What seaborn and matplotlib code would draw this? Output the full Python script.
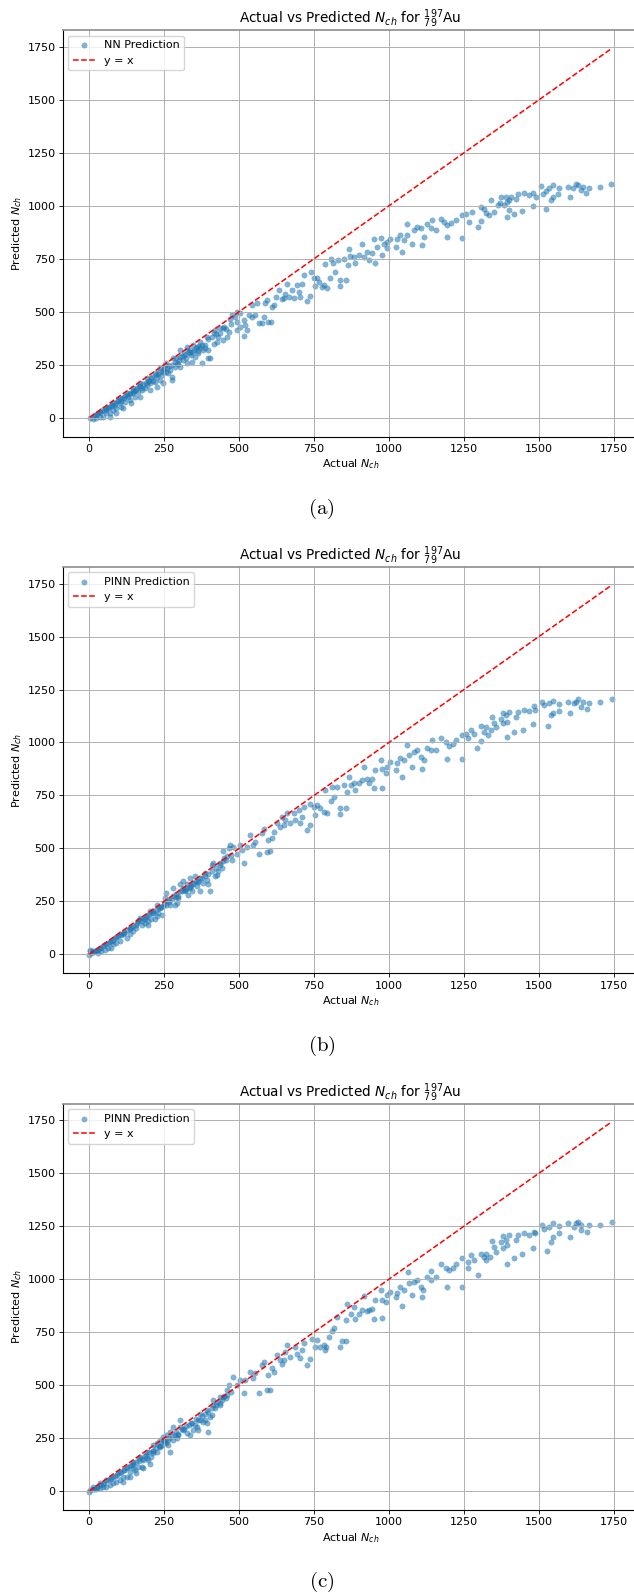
import matplotlib
matplotlib.use("Agg")
import matplotlib.pyplot as plt
import seaborn as sns

# ---- panel (a): NN ----
nn_actual = [
    1741, 1702, 1668, 1657, 1646, 1641, 1629, 1624, 1613, 1602,
    1596, 1568, 1563, 1546, 1540, 1546, 1535, 1524, 1524, 1507,
    1513, 1490, 1479, 1479, 1468, 1451, 1442, 1429, 1423, 1418,
    1406, 1401, 1401, 1395, 1390, 1384, 1393, 1373, 1371, 1362,
    1351, 1340, 1334, 1323, 1317, 1306, 1306, 1297, 1278, 1267,
    1256, 1245, 1243, 1223, 1206, 1195, 1195, 1184, 1172, 1156,
    1145, 1139, 1128, 1117, 1111, 1108, 1094, 1083, 1078, 1061,
    1061, 1050, 1044, 1036, 1028, 1022, 1005, 992, 994, 983,
    977, 972, 961, 950, 952, 944, 933, 927, 916, 911,
    899, 888, 883, 871, 866, 863, 855, 851, 838, 838,
    829, 821, 813, 805, 802, 793, 788, 782, 777, 766,
    760, 754, 749, 740, 736, 727, 715, 710, 704, 699,
    693, 682, 676, 665, 660, 654, 649, 643, 632, 624,
    615, 610, 606, 598, 593, 587, 582, 576, 565, 559,
    554, 543, 543,
    476, 487, 493, 504, 515, 520, 515, 526, 532, 504,
    493, 465, 459, 448, 437, 431, 420, 426, 415, 403,
    398, 387, 381, 370, 364, 359, 353, 348, 337, 325,
    320, 314, 303, 292, 286, 270, 275, 264, 253, 247,
    242, 236, 225, 219, 208, 203, 192, 186, 175, 164,
    153, 147, 136, 130, 119, 108, 102, 91, 80, 69,
    58, 47, 36, 24, 13, 2,
    236, 258, 281, 303, 325, 219, 192, 169, 147, 125,
    102, 80, 58, 36, 19, 392, 415, 448, 470, 493,
    370, 348,
    247, 275, 303, 325, 342, 225, 203, 169, 141, 114,
    91, 69, 398, 376,
    30, 42, 55, 65, 75, 85, 95, 110, 120, 135,
    150, 160, 170, 180, 195, 210, 230, 245, 260, 285,
    300, 315, 335, 350, 365,
    15, 28, 38, 50, 62, 72, 88, 98, 105, 115,
    128, 138, 145, 158, 165, 178, 190, 200, 212, 222,
    232, 250, 255, 268, 278, 290, 298, 310, 322, 332,
    340, 355, 362, 378, 385, 395, 410, 422, 435, 450,
    458, 472,
]
nn_pred = [
    1105, 1090, 1085, 1061, 1090, 1074, 1097, 1105, 1082, 1042,
    1090, 1082, 1055, 1042, 1027, 1097, 1082, 1071, 987, 1093,
    1055, 1042, 1058, 998, 1050, 1058, 975, 1055, 1030, 961,
    1042, 1027, 979, 1019, 1042, 1003, 945, 1042, 1011, 1003,
    972, 1027, 956, 964, 987, 995, 929, 901, 972, 924,
    959, 956, 850, 932, 920, 909, 854, 924, 940, 888,
    935, 893, 913, 854, 814, 893, 901, 888, 822, 913,
    861, 838, 783, 861, 841, 806, 841, 830, 799, 819,
    767, 850, 806, 841, 731, 775, 744, 783, 756, 819,
    767, 728, 759, 762, 794, 720, 649, 751, 621, 649,
    744, 688, 728, 751, 657, 610, 723, 626, 618, 641,
    657, 621, 660, 688, 574, 552, 673, 633, 571, 594,
    626, 563, 602, 571, 630, 586, 563, 558, 602, 571,
    531, 523, 453, 453, 555, 539, 476, 445, 445, 539,
    484, 531, 476,
    484, 476, 453, 492, 461, 437, 385, 413, 484, 429,
    413, 406, 379, 366, 421, 382, 413, 358, 347, 280,
    319, 343, 319, 327, 303, 335, 288, 311, 303, 319,
    295, 272, 288, 256, 240, 225, 193, 209, 248, 225,
    201, 177, 193, 170, 185, 162, 154, 138, 130, 122,
    99, 115, 83, 99, 75, 52, 67, 44, 36, 20,
    20, 4, 4, -3, -4, -3,
    233, 256, 280, 319, 335, 209, 185, 162, 138, 115,
    91, 67, 44, 28, 12, 382, 398, 421, 468, 500,
    358, 343,
    162, 177, 240, 256, 264, 146, 130, 99, 67, 44,
    20, 4, 280, 256,
    22, 35, 40, 52, 60, 70, 78, 95, 100, 118,
    128, 140, 148, 160, 172, 190, 205, 215, 235, 262,
    270, 300, 318, 320, 340,
    10, 18, 25, 33, 48, 55, 62, 85, 80, 92,
    105, 110, 125, 130, 150, 140, 165, 175, 175, 200,
    215, 230, 215, 245, 250, 280, 255, 290, 280, 310,
    295, 330, 315, 345, 330, 370, 380, 395, 400, 430,
    420, 440,
]

# ---- panel (b): PINN ----
pinn_b_actual = [
    1743, 1704, 1668, 1661, 1646, 1641, 1630, 1624, 1616, 1602,
    1596, 1568, 1568, 1546, 1546, 1540, 1535, 1529, 1518, 1509,
    1488, 1479, 1485, 1468, 1451, 1446, 1429, 1423, 1418, 1401,
    1395, 1393, 1390, 1379, 1373, 1379, 1356, 1351, 1345, 1340,
    1329, 1323, 1317, 1306, 1306, 1295, 1284, 1273, 1262, 1256,
    1245, 1245, 1223, 1212, 1200, 1195, 1189, 1172, 1156, 1145,
    1139, 1128, 1117, 1111, 1106, 1094, 1083, 1078, 1061, 1067,
    1050, 1044, 1036, 1028, 1022, 1005, 994, 989, 977, 977,
    972, 955, 950, 944, 933, 927, 916, 911, 899, 888,
    883, 872, 866, 860, 855, 849, 838, 838, 827, 816,
    810, 805, 793, 788, 782, 771, 760, 754, 749, 738,
    738, 727, 715, 710, 704, 699, 688, 682, 671, 660,
    654, 649, 643, 637, 626, 615, 610, 604, 598, 593,
    582, 576, 565, 554, 548, 537, 526, 515, 509, 504,
    493, 481, 476, 470,
    459, 465, 448, 442, 437, 431, 426, 414, 409, 420,
    403, 398, 392, 387, 381, 370, 364, 359, 353, 348,
    342, 336, 325, 320, 314, 303, 297, 292, 281, 270,
    258, 253, 247, 236, 231, 225, 214, 208, 197, 192,
    186, 175, 164, 158, 147, 136, 125, 113, 102, 91,
    80, 74, 63, 52, 41, 30, 19, 8, 1, 2,
    2, 258, 281, 303, 314, 336, 225, 203, 180, 169,
    136, 102, 80, 58, 35, 13, 197, 219, 242, 286,
    331, 370, 448,
    25, 45, 70, 90, 115, 140, 160, 185, 210, 240,
    265, 290, 320, 345,
    15, 28, 38, 50, 62, 72, 88, 98, 105, 115,
    128, 138, 145, 158, 165, 178, 190, 200, 212, 222,
    232, 250, 255, 268, 278, 290, 298, 310, 322, 332,
    340, 355, 362, 378, 385, 395, 410, 422, 435, 450,
    458, 472,
]
pinn_b_pred = [
    1203, 1189, 1184, 1157, 1192, 1168, 1203, 1192, 1184, 1137,
    1192, 1181, 1149, 1197, 1137, 1129, 1184, 1077, 1176, 1192,
    1153, 1087, 1172, 1149, 1153, 1061, 1145, 1121, 1050, 1145,
    1098, 1027, 1129, 1140, 1113, 1090, 1074, 1093, 1118, 1058,
    1035, 1074, 1050, 1077, 1008, 972, 1039, 1058, 1019, 1039,
    1035, 920, 1011, 995, 983, 920, 1003, 1019, 964, 1014,
    964, 972, 917, 873, 933, 964, 956, 882, 988, 940,
    917, 838, 925, 901, 870, 909, 885, 854, 873, 783,
    917, 870, 783, 830, 807, 830, 882, 822, 807, 775,
    807, 799, 838, 767, 693, 799, 693, 662, 791, 744,
    788, 725, 665, 775, 673, 689, 704, 657, 697, 709,
    610, 586, 697, 649, 618, 681, 634, 665, 618, 665,
    634, 610, 649, 602, 618, 579, 547, 489, 539, 484,
    594, 571, 476, 531, 516, 563, 508, 429, 492, 516,
    476, 508, 445, 516,
    463, 503, 440, 408, 432, 393, 377, 432, 424, 369,
    301, 330, 353, 385, 338, 361, 345, 322, 369, 330,
    298, 314, 330, 298, 314, 298, 267, 243, 275, 235,
    251, 267, 227, 220, 196, 180, 204, 165, 157, 180,
    149, 141, 157, 125, 109, 94, 78, 94, 62, 54,
    47, 31, 31, 23, 15, 7, 15, 7, -1, 20,
    15, 290, 314, 330, 345, 361, 235, 204, 172, 172,
    125, 94, 70, 47, 31, 18, 141, 165, 188, 235,
    282, 298, 487,
    22, 40, 60, 82, 105, 128, 150, 168, 195, 222,
    248, 270, 305, 335,
    12, 22, 30, 42, 52, 62, 75, 88, 90, 100,
    115, 120, 135, 140, 160, 158, 175, 190, 195, 210,
    218, 240, 232, 255, 262, 285, 275, 300, 310, 318,
    325, 345, 340, 360, 370, 380, 395, 410, 420, 455,
    445, 470,
]

# ---- panel (c): PINN ----
pinn_c_actual = [
    1743, 1704, 1668, 1661, 1641, 1641, 1630, 1624, 1616, 1602,
    1596, 1568, 1568, 1546, 1546, 1540, 1535, 1527, 1518, 1509,
    1488, 1479, 1482, 1468, 1451, 1443, 1429, 1423, 1418, 1401,
    1395, 1393, 1390, 1379, 1373, 1379, 1356, 1351, 1343, 1337,
    1323, 1323, 1317, 1306, 1298, 1284, 1273, 1262, 1265, 1245,
    1245, 1223, 1212, 1200, 1193, 1189, 1172, 1156, 1139, 1139,
    1128, 1115, 1111, 1106, 1094, 1083, 1078, 1063, 1067, 1050,
    1044, 1036, 1028, 1022, 1005, 994, 989, 977, 977, 972,
    955, 950, 944, 933, 927, 916, 911, 899, 888, 883,
    872, 860, 857, 855, 844, 838, 827, 816, 810, 799,
    791, 788, 782, 771, 760, 754, 743, 738, 727, 715,
    710, 704, 693, 688, 671, 660, 654, 649, 643, 637,
    626, 615, 610, 604, 598, 593, 582, 576, 565, 554,
    548, 537, 520, 515, 504, 493, 481,
    465, 459, 448, 442, 437, 426, 420, 414, 409, 403,
    392, 398, 387, 381, 370, 364, 359, 353, 348, 336,
    325, 314, 303, 297, 292, 281, 270, 264, 253, 247,
    242, 236, 225, 214, 208, 197, 192, 180, 175, 164,
    152, 147, 136, 125, 113, 102, 91, 80, 69, 58,
    47, 35, 24, 13, 2, 1,
    303, 281, 258, 236, 214, 192, 169, 147, 125, 102,
    80, 58, 35, 13, 203, 180, 158, 136, 113,
    370, 392, 414, 437, 459, 270, 247, 225,
    25, 45, 70, 92, 118, 142, 165, 188, 212, 238,
    262, 288, 318, 342,
    15, 28, 38, 50, 62, 72, 88, 98, 105, 115,
    128, 138, 145, 158, 165, 178, 190, 200, 212, 222,
    232, 250, 255, 268, 278, 290, 298, 310, 322, 332,
    340, 355, 362, 378, 385, 395, 410, 422, 435, 450,
    458, 472,
]
pinn_c_pred = [
    1271, 1255, 1255, 1224, 1255, 1231, 1271, 1263, 1247, 1200,
    1263, 1250, 1216, 1263, 1200, 1176, 1247, 1132, 1239, 1258,
    1216, 1145, 1224, 1208, 1216, 1118, 1208, 1184, 1098, 1208,
    1161, 1074, 1184, 1203, 1176, 1145, 1129, 1153, 1180, 1106,
    1090, 1121, 1106, 1121, 1019, 1090, 1113, 1082, 1051, 961,
    1098, 1074, 1055, 1043, 961, 1051, 1071, 1008, 1040, 995,
    1011, 948, 914, 964, 995, 988, 925, 1035, 980, 948,
    873, 964, 933, 914, 940, 925, 893, 901, 815, 948,
    904, 810, 857, 854, 851, 920, 854, 838, 810, 870,
    838, 885, 807, 709, 709, 681, 823, 772, 756, 728,
    678, 668, 689, 681, 712, 681, 720, 621, 594, 697,
    665, 626, 649, 678, 634, 689, 657, 618, 602, 618,
    641, 563, 579, 477, 547, 477, 610, 594, 464, 555,
    532, 563, 524, 461, 524, 500, 539,
    500, 453, 445, 429, 406, 422, 390, 429, 359, 351,
    319, 280, 335, 327, 335, 288, 304, 311, 288, 264,
    272, 288, 304, 264, 249, 241, 186, 217, 233, 241,
    217, 209, 186, 178, 162, 146, 154, 146, 115, 115,
    99, 107, 91, 68, 68, 52, 44, 36, 28, 20,
    20, 13, 9, 8, 5, -3,
    335, 304, 264, 241, 217, 185, 162, 138, 115, 91,
    68, 52, 36, 20, 130, 107, 83, 68, 44,
    366, 382, 406, 445, 476, 280, 256, 225,
    20, 35, 55, 75, 100, 122, 140, 165, 190, 215,
    240, 265, 295, 320,
    10, 20, 28, 40, 50, 60, 72, 85, 88, 98,
    110, 118, 130, 138, 155, 152, 170, 185, 190, 205,
    212, 235, 228, 250, 258, 280, 270, 295, 305, 312,
    320, 340, 335, 355, 365, 375, 390, 405, 415, 450,
    440, 468,
]

panels = [
    (nn_actual, nn_pred, "NN Prediction", "(a)"),
    (pinn_b_actual, pinn_b_pred, "PINN Prediction", "(b)"),
    (pinn_c_actual, pinn_c_pred, "PINN Prediction", "(c)"),
]

plt.rcParams['font.family'] = ['DejaVu Sans']

fig = plt.figure(figsize=(6.34, 15.94), dpi=100)

ax_left, ax_w, ax_h = 0.0989, 0.9082, 0.2551
bottoms = [0.7260, 0.3893, 0.0526]
caption_y = [0.6807, 0.3440, 0.0073]

title = r"Actual vs Predicted $N_{ch}$ for $^{197}_{79}$Au"

for (actual, pred, label, cap), bot, cy in zip(panels, bottoms, caption_y):
    assert len(actual) == len(pred)
    ax = fig.add_axes([ax_left, bot, ax_w, ax_h])
    sns.scatterplot(x=actual, y=pred, ax=ax, s=15, color="#1f77b4",
                    alpha=0.55, edgecolor="#1f77b4", linewidth=0.3,
                    label=label)
    lo, hi = min(actual), max(actual)
    ax.plot([lo, hi], [lo, hi], color="red", linestyle="--",
            linewidth=1.1, label="y = x")

    ax.set_xlim(-88, 1832)
    ax.set_ylim(-90, 1829)
    ax.set_xticks([0, 250, 500, 750, 1000, 1250, 1500, 1750])
    ax.set_yticks([0, 250, 500, 750, 1000, 1250, 1500, 1750])
    ax.grid(True, color="#b0b0b0", linewidth=0.7)
    ax.tick_params(labelsize=8, length=2.6, width=0.6, pad=2.6)
    for sp in ["left", "bottom"]:
        ax.spines[sp].set_linewidth(0.8)
    ax.spines["top"].set_color("#8c8c8c")
    ax.spines["top"].set_linewidth(1.2)

    ax.set_title(title, fontsize=9.8, pad=4)
    ax.set_xlabel(r"Actual $N_{ch}$", fontsize=8, labelpad=2.5)
    ax.set_ylabel(r"Predicted $N_{ch}$", fontsize=8, labelpad=2.5)
    ax.legend(loc="upper left", fontsize=8, borderaxespad=0.5)

    fig.text(0.507, cy, r"$\mathrm{" + cap + "}$", math_fontfamily="cm",
             fontsize=15, ha="center", va="center")

fig.savefig("out.png", dpi=100)
